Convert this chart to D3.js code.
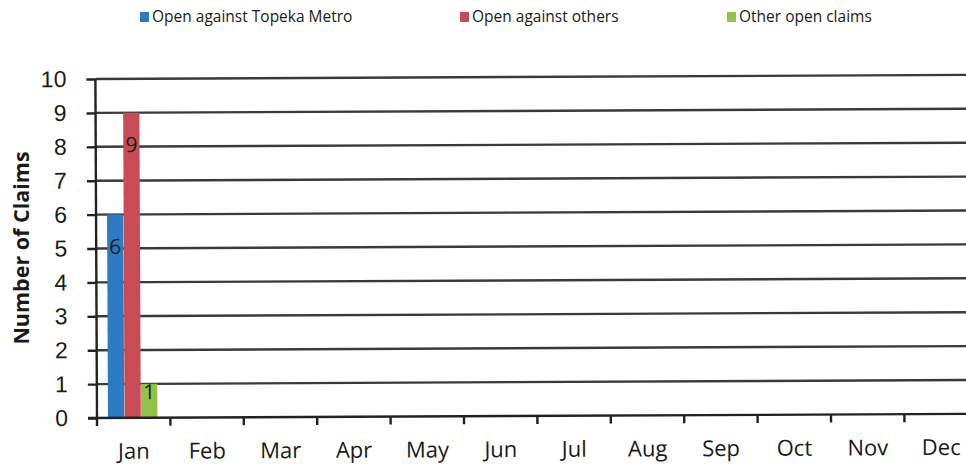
<!DOCTYPE html>
<html lang="en">
<head>
    <meta charset="utf-8">
    <title>Open claims by month</title>
    <script type="text/javascript" src="https://cdn.jsdelivr.net/npm/d3@7"></script>
    <style type="text/css">
        body { margin: 0; background: #fff; }
        svg { display: block; font-family: "Open Sans", sans-serif; }
    </style>
</head>
<body>
    <script type="text/javascript">
        // Data
        var months = ["Jan", "Feb", "Mar", "Apr", "May", "Jun", "Jul", "Aug", "Sep", "Oct", "Nov", "Dec"];
        var seriesNames = ["Open against Topeka Metro", "Open against others", "Other open claims"];
        var topekaMetro = [6, null, null, null, null, null, null, null, null, null, null, null];
        var others = [9, null, null, null, null, null, null, null, null, null, null, null];
        var otherClaims = [1, null, null, null, null, null, null, null, null, null, null, null];
        var yTicks = [0, 1, 2, 3, 4, 5, 6, 7, 8, 9, 10];

        var colors = ["#2d7cc3", "#c94b56", "#92c24b"];
        var seriesValues = [topekaMetro, others, otherClaims];

        var w = 966;
        var h = 468;
        var margin = { left: 97, top: 79, bottom: 418 };

        var svg = d3.select("body")
            .append("svg")
            .attr("width", w)
            .attr("height", h);

        // Scales
        var x = d3.scaleBand()
            .domain(months)
            .range([margin.left, margin.left + 73.4 * months.length])
            .paddingInner(0)
            .paddingOuter(0);

        var xSeries = d3.scaleBand()
            .domain(d3.range(seriesNames.length))
            .range([11, x.bandwidth() - 13])
            .paddingInner(0.02);

        var y = d3.scaleLinear()
            .domain([0, 10])
            .range([margin.bottom, margin.top]);

        // scanned page is a little tilted
        var plot = svg.append("g")
            .attr("transform", "rotate(-0.27," + margin.left + "," + margin.bottom + ")");

        // Gridlines
        plot.append("g")
            .selectAll("line")
            .data(yTicks.slice(1))
            .enter()
            .append("line")
            .attr("x1", margin.left)
            .attr("x2", w + 20)
            .attr("y1", function(d) { return y(d); })
            .attr("y2", function(d) { return y(d); })
            .style("stroke", "#3a3a3a")
            .style("stroke-width", 2.4);

        // Bars
        var bars = [];
        seriesValues.forEach(function(vals, s) {
            vals.forEach(function(v, i) {
                if (v != null) bars.push({ s: s, month: months[i], value: v });
            });
        });

        plot.append("g")
            .selectAll("rect")
            .data(bars)
            .enter()
            .append("rect")
            .attr("x", function(d) { return x(d.month) + xSeries(d.s); })
            .attr("y", function(d) { return y(d.value); })
            .attr("width", xSeries.bandwidth())
            .attr("height", function(d) { return y(0) - y(d.value); })
            .style("fill", function(d) { return colors[d.s]; });

        // Data labels
        plot.append("g")
            .selectAll("text")
            .data(bars)
            .enter()
            .append("text")
            .attr("x", function(d) { return x(d.month) + xSeries(d.s) + xSeries.bandwidth() / 2; })
            .attr("y", function(d) { return Math.min(y(d.value) + 32, y(0) - 26); })
            .attr("dy", "0.35em")
            .attr("text-anchor", "middle")
            .style("font-size", "21px")
            .style("fill", "#1a1a1a")
            .text(function(d) { return d.value; });

        // Y axis
        var yAxis = plot.append("g")
            .attr("transform", "translate(" + margin.left + ",0)")
            .call(d3.axisLeft(y).tickValues(yTicks).tickSize(9).tickPadding(20));
        yAxis.select(".domain").attr("d", "M0," + (y(10)) + "V" + (y(0) + 8)).style("stroke", "#222").style("stroke-width", 2.4);
        yAxis.selectAll(".tick line").style("stroke", "#222").style("stroke-width", 2.4);
        yAxis.selectAll(".tick text")
            .style("font-size", "23px")
            .style("fill", "#1a1a1a");

        // X axis: ticks between months
        var xAxis = plot.append("g")
            .attr("transform", "translate(0," + margin.bottom + ")");
        xAxis.append("line")
            .attr("x1", margin.left - 9)
            .attr("x2", w + 20)
            .style("stroke", "#222")
            .style("stroke-width", 2.4);
        xAxis.selectAll("line.tick")
            .data(months)
            .enter()
            .append("line")
            .attr("class", "tick")
            .attr("x1", function(d) { return x(d) + x.bandwidth(); })
            .attr("x2", function(d) { return x(d) + x.bandwidth(); })
            .attr("y1", 0)
            .attr("y2", 8)
            .style("stroke", "#222")
            .style("stroke-width", 2.4);
        xAxis.selectAll("text")
            .data(months)
            .enter()
            .append("text")
            .attr("x", function(d) { return x(d) + x.bandwidth() / 2; })
            .attr("y", 41)
            .attr("text-anchor", "middle")
            .style("font-size", "22px")
            .style("fill", "#1a1a1a")
            .text(function(d) { return d; });

        // Y axis title
        svg.append("text")
            .attr("transform", "translate(29,248) rotate(-90)")
            .attr("text-anchor", "middle")
            .style("font-size", "21.5px")
            .style("font-weight", "bold")
            .style("fill", "#1a1a1a")
            .text("Number of Claims");

        // Legend
        var legendX = [140, 460, 727];
        var legend = svg.append("g")
            .selectAll("g")
            .data(seriesNames)
            .enter()
            .append("g")
            .attr("transform", function(d, i) { return "translate(" + legendX[i] + ",17)"; });
        legend.append("rect")
            .attr("x", 0)
            .attr("y", -5)
            .attr("width", 9)
            .attr("height", 10)
            .style("fill", function(d, i) { return colors[i]; });
        legend.append("text")
            .attr("x", 12)
            .attr("dy", "0.35em")
            .style("font-size", "15.5px")
            .style("fill", "#1a1a1a")
            .text(function(d) { return d; });
    </script>
</body>
</html>
